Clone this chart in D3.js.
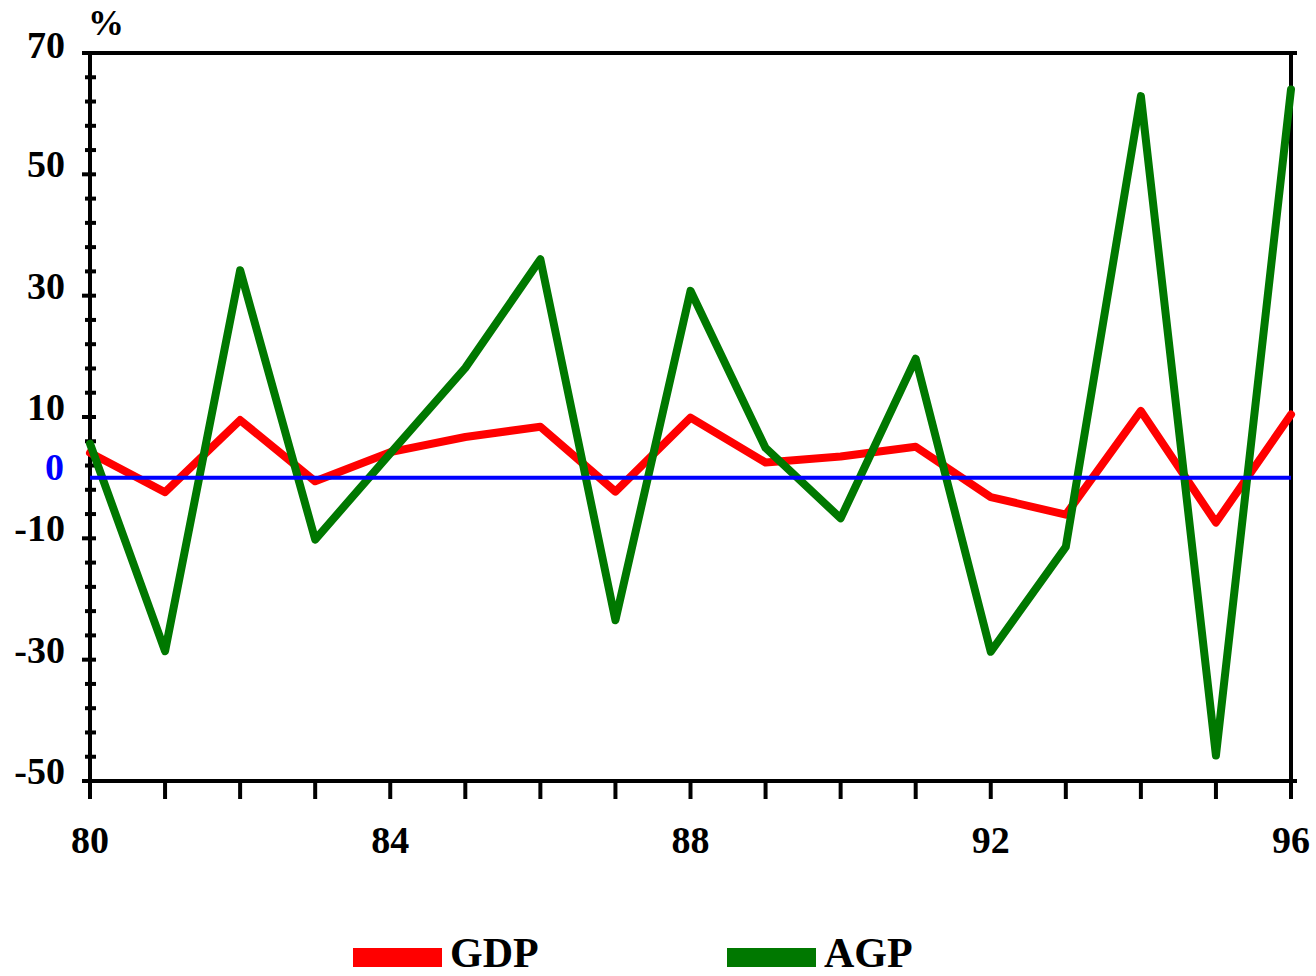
<!DOCTYPE html>
<html>
<head>
<meta charset="utf-8">
<script src="https://cdn.jsdelivr.net/npm/d3@7"></script>
<style>
  html, body { margin: 0; padding: 0; background: #fff; }
  svg { display: block; }
  text { font-family: "Liberation Serif", "Times New Roman", serif; font-weight: bold; }
</style>
</head>
<body>
<svg id="chart" width="1316" height="976"></svg>
<script>
const years = [80, 81, 82, 83, 84, 85, 86, 87, 88, 89, 90, 91, 92, 93, 94, 95, 96];
const gdp = [4.1, -2.4, 9.5, -0.6, 4.2, 6.7, 8.4, -2.3, 9.9, 2.5, 3.5, 5.1, -3.2, -6.1, 11.0, -7.4, 10.4];
const agp = [5.6, -28.6, 34.2, -10.2, 4.0, 18.1, 36.0, -23.5, 30.8, 4.9, -6.7, 19.6, -28.7, -11.4, 62.9, -45.8, 64.0];
const xTickLabels = [80, 84, 88, 92, 96];
const yTickLabels = [70, 50, 30, 10, -10, -30, -50];
const yZeroLabel = "0";
const seriesNames = ["GDP", "AGP"];
const seriesColors = ["#ff0000", "#007800"];

const svg = d3.select("#chart");
const x = d3.scaleLinear().domain([80, 96]).range([90, 1291]);
const y = d3.scaleLinear().domain([-50, 70]).range([781, 53]);

// frame
const frame = svg.append("g").attr("stroke", "#000").attr("stroke-width", 4);
frame.append("line").attr("x1", 82).attr("x2", 1297).attr("y1", y(70)).attr("y2", y(70));
frame.append("line").attr("x1", 82).attr("x2", 1297).attr("y1", y(-50)).attr("y2", y(-50));
frame.append("line").attr("x1", x(96)).attr("x2", x(96)).attr("y1", y(70)).attr("y2", y(-50) + 18);
frame.append("line").attr("x1", x(80)).attr("x2", x(80)).attr("y1", y(70)).attr("y2", y(-50) + 18);

// y axis ticks (every 4 units)
const yTicks = d3.range(-50, 71, 4);
svg.append("g").attr("stroke", "#000").attr("stroke-width", 4)
  .selectAll("line").data(yTicks).join("line")
  .attr("x1", d => yTickLabels.includes(d) ? x(80) - 8 : x(80) - 5)
  .attr("x2", x(80) + 6)
  .attr("y1", d => y(d)).attr("y2", d => y(d));

// x axis ticks (every year)
svg.append("g").attr("stroke", "#000").attr("stroke-width", 4)
  .selectAll("line").data(years).join("line")
  .attr("x1", d => x(d)).attr("x2", d => x(d))
  .attr("y1", y(-50)).attr("y2", y(-50) + 18);

// y labels
svg.append("g").selectAll("text").data(yTickLabels).join("text")
  .attr("x", 65).attr("y", d => y(d) + (d === 70 ? 5 : 3))
  .attr("text-anchor", "end").attr("font-size", 38).attr("fill", "#000")
  .text(d => d);
svg.append("text").attr("x", 64).attr("y", y(0) + 2)
  .attr("text-anchor", "end").attr("font-size", 38).attr("fill", "#0000ff")
  .text(yZeroLabel);
svg.append("text").attr("x", 88).attr("y", 35).attr("font-size", 36).attr("fill", "#000").text("%");

// x labels
svg.append("g").selectAll("text").data(xTickLabels).join("text")
  .attr("x", d => x(d)).attr("y", 853)
  .attr("text-anchor", "middle").attr("font-size", 38).attr("fill", "#000")
  .text(d => d);

// series
const line = d3.line().x((d, i) => x(years[i])).y(d => y(d));
[gdp, agp].forEach((s, k) => {
  svg.append("path").datum(s)
    .attr("d", line)
    .attr("fill", "none")
    .attr("stroke", seriesColors[k])
    .attr("stroke-width", 8)
    .attr("stroke-linejoin", "round")
    .attr("stroke-linecap", "round");
});

// zero line
svg.append("line").attr("x1", x(80)).attr("x2", x(96))
  .attr("y1", y(0)).attr("y2", y(0))
  .attr("stroke", "#0000ff").attr("stroke-width", 4);

// legend
const legendX = [353, 727];
seriesNames.forEach((n, k) => {
  svg.append("rect").attr("x", legendX[k]).attr("y", 948).attr("width", 89).attr("height", 19)
    .attr("fill", seriesColors[k]);
  svg.append("text").attr("x", legendX[k] + 97).attr("y", 967)
    .attr("font-size", 42).attr("fill", "#000").text(n);
});
</script>
</body>
</html>
